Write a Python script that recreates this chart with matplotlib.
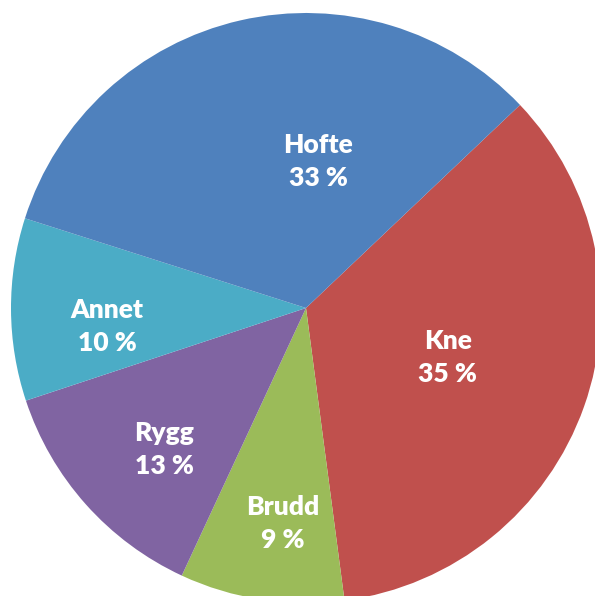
import matplotlib
matplotlib.use("Agg")
import matplotlib.pyplot as plt

# slices in drawing order (clockwise from the Hofte/Kne border)
labels = ["Kne", "Brudd", "Rygg", "Annet", "Hofte"]
shares = [35, 9, 13, 10, 33]
colors = ["#C0504D", "#9BBB59", "#8064A2", "#4BACC6", "#4F81BD"]

# label centres in pie units (radius = 1), placed as in the original
label_pos = [(0.481, -0.168), (-0.078, -0.732), (-0.480, -0.481),
             (-0.675, -0.063), (0.041, 0.497)]

fig = plt.figure(figsize=(5.95, 5.96), dpi=100)
ax = fig.add_axes([11 / 595, -7 / 596, 590 / 595, 590 / 596])
ax.pie(shares, colors=colors, startangle=43.5, counterclock=False,
       wedgeprops=dict(linewidth=0))
ax.set_xlim(-1, 1); ax.set_ylim(-1, 1)
ax.set_aspect("equal"); ax.axis("off")

for lab, v, (x, y) in zip(labels, shares, label_pos):
    ax.text(x, y, f"{lab}\n{v} %", ha="center", va="center", color="white",
            fontsize=19, fontweight="heavy", family="Lato", linespacing=1.45)

fig.savefig("out.png", dpi=100)
